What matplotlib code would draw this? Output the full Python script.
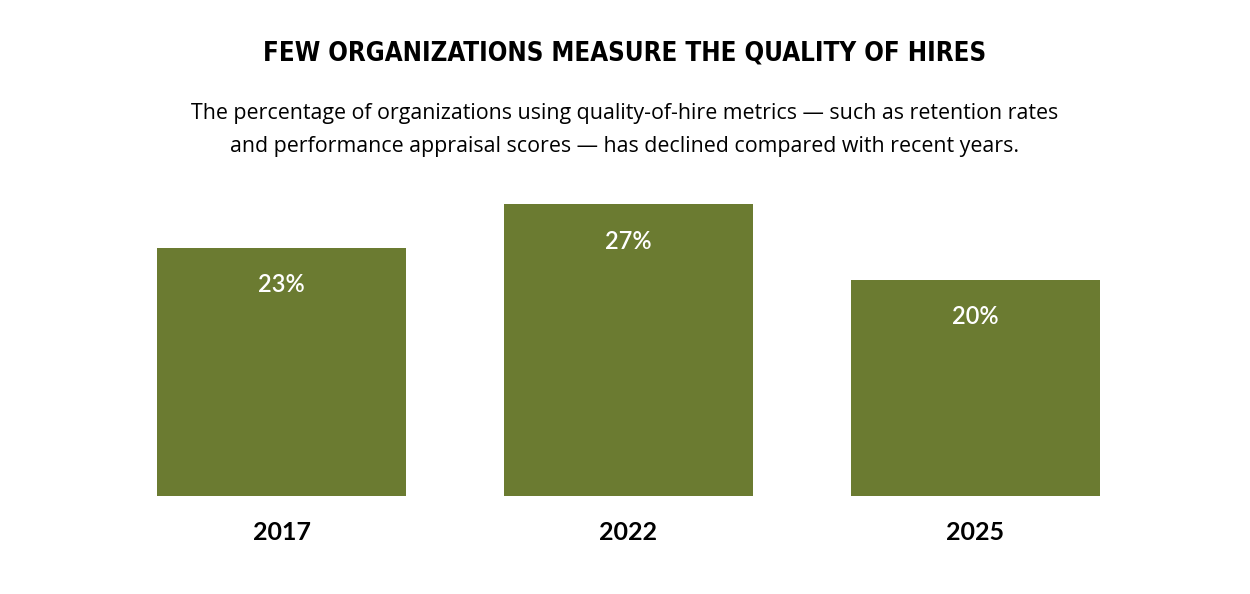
import matplotlib
matplotlib.use('Agg')
import matplotlib.pyplot as plt

# data
years = ['2017', '2022', '2025']
values = [23, 27, 20]
labels = ['23%', '27%', '20%']

title = 'FEW ORGANIZATIONS MEASURE THE QUALITY OF HIRES'
subtitle = ('The percentage of organizations using quality-of-hire metrics \u2014 such as retention rates\n'
            'and performance appraisal scores \u2014 has declined compared with recent years.')

bar_color = '#6b7b31'

fig = plt.figure(figsize=(12.5, 5.94), dpi=100)
ax = fig.add_axes([0.0864, 0.165, 0.8328, 0.5091])

x = range(len(years))
ax.bar(x, values, width=0.7176, color=bar_color)
ax.set_xlim(-0.5, 2.5)
ax.set_ylim(0, 28)

for i, v in enumerate(values):
    ax.annotate(labels[i], (i, v), xytext=(0, -37), textcoords='offset pixels',
                ha='center', va='center', color='white', fontsize=17,
                family=['Lato', 'DejaVu Sans'], fontweight='semibold')

ax.set_xticks(list(x))
ax.set_xticklabels(years, fontsize=18, fontweight='bold', family=['Lato', 'DejaVu Sans'])
ax.tick_params(axis='x', length=0, pad=18)
ax.set_yticks([])
for s in ax.spines.values():
    s.set_visible(False)

fig.text(0.5, 1 - 53 / 594, title, ha='center', va='center', fontsize=18.5,
         fontweight='bold', fontstretch='condensed', family=['DejaVu Sans'])
fig.text(0.5, 1 - 130 / 594, subtitle, ha='center', va='center', fontsize=15.4,
         family=['Open Sans', 'DejaVu Sans'], linespacing=1.75)

fig.savefig('out.png', dpi=100)
